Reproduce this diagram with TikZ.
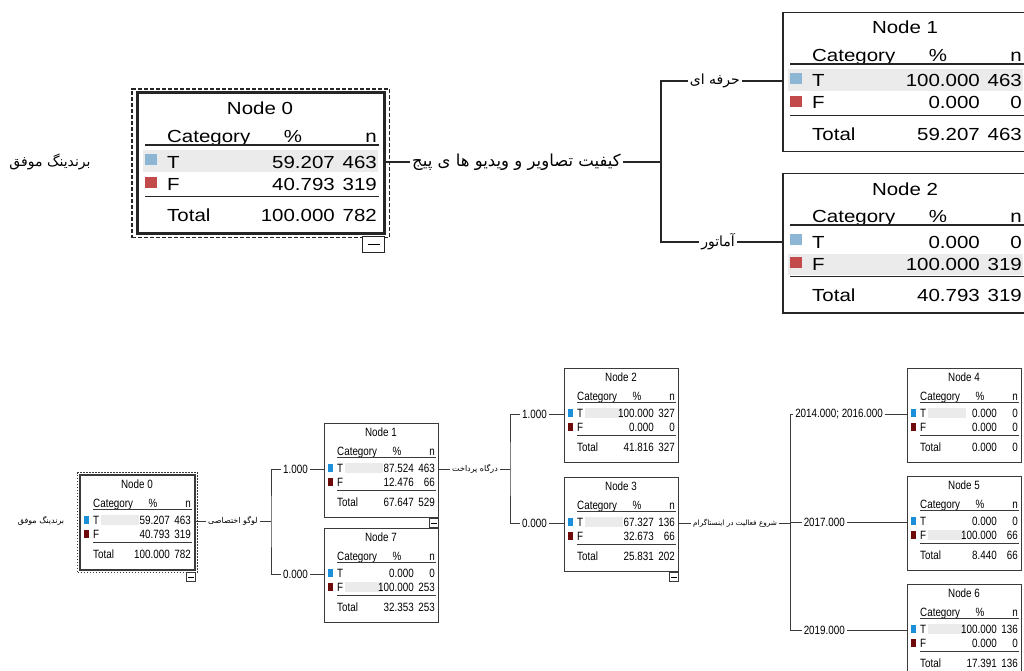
\documentclass[tikz,border=0pt]{standalone}
\usepackage{fontspec}
\setmainfont{Liberation Sans}
\newfontfamily\widesans[FakeStretch=1.17]{Liberation Sans}
\newfontfamily\narrowsans[FakeStretch=0.82]{Liberation Sans}
\newfontfamily\farsi[Script=Arabic]{DejaVu Sans}
\TeXXeTstate=1
\usetikzlibrary{positioning,fit}

\definecolor{tblue}{HTML}{8DB6D4}
\definecolor{fred}{HTML}{C24A4A}
\definecolor{sblue}{HTML}{1C8FDB}
\definecolor{sred}{HTML}{6E0A0A}
\definecolor{bandgray}{HTML}{EBEBEB}
\definecolor{linegray}{HTML}{3A3A3A}

\tikzset{
  bigframe/.style={draw=black!85, line width=1.5pt, minimum width=246pt,
    minimum height=139pt, inner sep=0pt, anchor=north west},
  smallframe/.style={draw=linegray, line width=1pt, minimum width=114pt,
    minimum height=94pt, inner sep=0pt, anchor=north west},
  bigtxt/.style={font=\widesans\fontsize{17.5}{20}\selectfont, inner sep=0pt},
  smalltxt/.style={font=\narrowsans\fontsize{12}{14}\selectfont, inner sep=0pt},
  bigrule/.style={draw=black!85, line width=1.5pt},
  smallrule/.style={draw=linegray, line width=1pt},
  topedge/.style={draw=black!85, line width=1.5pt},
  lowedge/.style={draw=linegray, line width=1pt},
  fabig/.style={font=\farsi\fontsize{14}{16}\selectfont, inner xsep=2pt, inner ysep=1pt},
  fasmall/.style={font=\farsi\fontsize{8}{10}\selectfont, inner xsep=2pt, inner ysep=1pt},
  branch/.style={font=\narrowsans\fontsize{12}{14}\selectfont, inner xsep=2pt, inner ysep=1pt},
  rootbig/.style={draw=black!85, dash pattern=on 4pt off 2pt, line width=1.2pt,
    inner xsep=5pt, inner ysep=4pt},
  rootsmall/.style={draw=linegray, dash pattern=on 1.5pt off 1.5pt, line width=1pt,
    inner sep=2.5pt},
  minusbig/.style={draw=black!85, line width=1.2pt, fill=white, minimum width=22pt,
    minimum height=16pt, inner sep=0pt, anchor=north east},
  minussmall/.style={draw=linegray, line width=0.8pt, fill=white, minimum width=9pt,
    minimum height=9pt, inner sep=0pt, anchor=north east}
}

% #1 name, #2 top left, #3 number, #4/#5 T, #6/#7 F, #8/#9 total
\newcommand{\bigbox}[9]{%
  \begin{scope}[shift={(#2)}]
    \ifnum #7>#5\relax
      \fill[bandgray] (6,81) rectangle (241,102);
    \else
      \fill[bandgray] (6,57) rectangle (241,79);
    \fi
    \node[bigframe] (#1) at (0,0) {};
    \fill[tblue] (8,61) rectangle (20,72);
    \fill[fred] (8,84) rectangle (20,95);
    \node[bigtxt, anchor=base] (#1-title) at (123,22) {Node #3};
    \node[bigtxt, anchor=base west] (#1-cat) at (30,49.5) {Category};
    \node[bigtxt, anchor=base] (#1-pc) at (156,49.5) {\%};
    \node[bigtxt, anchor=base east] (#1-n) at (240,49.5) {n};
    \draw[bigrule] (8,52) -- (242,52);
    \node[bigtxt, anchor=base west] (#1-tl) at (30,75) {T};
    \node[bigtxt, anchor=base east] (#1-tp) at (198,75) {#4};
    \node[bigtxt, anchor=base east] (#1-tn) at (240,75) {#5};
    \node[bigtxt, anchor=base west] (#1-fl) at (30,97) {F};
    \node[bigtxt, anchor=base east] (#1-fp) at (198,97) {#6};
    \node[bigtxt, anchor=base east] (#1-fn) at (240,97) {#7};
    \draw[bigrule] (8,103.5) -- (242,103.5);
    \node[bigtxt, anchor=base west] (#1-sl) at (30,128.5) {Total};
    \node[bigtxt, anchor=base east] (#1-sp) at (198,128.5) {#8};
    \node[bigtxt, anchor=base east] (#1-sn) at (240,128.5) {#9};
    \coordinate (#1-in) at (0,69);
    \coordinate (#1-out) at (246,69);
  \end{scope}}

\newcommand{\smallbox}[9]{%
  \begin{scope}[shift={(#2)}]
    \ifnum #7>#5\relax
      \fill[bandgray] (21,54) rectangle (59,64);
    \else
      \fill[bandgray] (21,40) rectangle (59,50);
    \fi
    \node[smallframe] (#1) at (0,0) {};
    \fill[sblue] (4,41) rectangle (9,49);
    \fill[sred] (4,55) rectangle (9,63);
    \node[smalltxt, anchor=base] (#1-title) at (57,13.5) {Node #3};
    \node[smalltxt, anchor=base west] (#1-cat) at (13,32) {Category};
    \node[smalltxt, anchor=base] (#1-pc) at (73,32) {\%};
    \node[smalltxt, anchor=base east] (#1-n) at (111,32) {n};
    \draw[smallrule] (13,34.5) -- (112,34.5);
    \node[smalltxt, anchor=base west] (#1-tl) at (13,49.5) {T};
    \node[smalltxt, anchor=base east] (#1-tp) at (90,49.5) {#4};
    \node[smalltxt, anchor=base east] (#1-tn) at (111,49.5) {#5};
    \node[smalltxt, anchor=base west] (#1-fl) at (13,63) {F};
    \node[smalltxt, anchor=base east] (#1-fp) at (90,63) {#6};
    \node[smalltxt, anchor=base east] (#1-fn) at (111,63) {#7};
    \draw[smallrule] (13,67.5) -- (112,67.5);
    \node[smalltxt, anchor=base west] (#1-sl) at (13,83.5) {Total};
    \node[smalltxt, anchor=base east] (#1-sp) at (90,83.5) {#8};
    \node[smalltxt, anchor=base east] (#1-sn) at (111,83.5) {#9};
    \coordinate (#1-in) at (0,46);
    \coordinate (#1-out) at (114,46);
  \end{scope}}

\begin{document}
\begin{tikzpicture}[x=1pt, y=-1pt]
\useasboundingbox (0,0) rectangle (1024,671);
\clip (0,0) rectangle (1024,671);
\fill[white] (0,0) rectangle (1024,671);

% upper tree
\bigbox{n0}{137,93}{0}{59.207}{463}{40.793}{319}{100.000}{782}
\bigbox{n1}{782,12}{1}{100.000}{463}{0.000}{0}{59.207}{463}
\bigbox{n2}{782,173}{2}{0.000}{0}{100.000}{319}{40.793}{319}

\node[rootbig, fit=(n0)] (n0-frame) {};
\node[minusbig] (n0-minus) at ([xshift=-5pt, yshift=2pt]n0-frame.south east) {\rule{12pt}{1.5pt}};
\draw[black!85, line width=3pt] (n0.north west) rectangle (n0.south east);

\node[fabig] (r0) at (50,162) {\farsi\beginR برندینگ موفق\endR};
\node[fabig, font=\farsi\fontsize{16.5}{18}\selectfont, right=27pt of n0-out] (s0) {\farsi\beginR کیفیت تصاویر و ویدیو ها ی پیج\endR};
\node[fabig, left=40pt of n1-in] (b1) {\farsi\beginR حرفه ای\endR};
\node[fabig, left=45pt of n2-in] (b2) {\farsi\beginR آماتور\endR};
\coordinate (j0) at (661,162);

\draw[topedge] (n0-out) -- (s0) -- (j0);
\draw[topedge] (n1-in) -- (b1) -| (j0) |- (b2) -- (n2-in);

% lower tree
\smallbox{m0}{80,475}{0}{59.207}{463}{40.793}{319}{100.000}{782}
\smallbox{m1}{324,423}{1}{87.524}{463}{12.476}{66}{67.647}{529}
\smallbox{m7}{324,528}{7}{0.000}{0}{100.000}{253}{32.353}{253}
\smallbox{m2}{564,368}{2}{100.000}{327}{0.000}{0}{41.816}{327}
\smallbox{m3}{564,477}{3}{67.327}{136}{32.673}{66}{25.831}{202}
\smallbox{m4}{907,368}{4}{0.000}{0}{0.000}{0}{0.000}{0}
\smallbox{m5}{907,476}{5}{0.000}{0}{100.000}{66}{8.440}{66}
\smallbox{m6}{907,584}{6}{100.000}{136}{0.000}{0}{17.391}{136}

\node[rootsmall, fit=(m0)] (m0-frame) {};
\draw[linegray, line width=2pt] (m0.north west) rectangle (m0.south east);
\node[minussmall] (m0-minus) at ([xshift=-2pt, yshift=1pt]m0-frame.south east) {\rule{6pt}{0.8pt}};
\node[minussmall] (m1-minus) at (m1.south east) {\rule{6pt}{0.8pt}};
\node[minussmall] (m3-minus) at (m3.south east) {\rule{6pt}{0.8pt}};

\node[fasmall] (r1) at (41,521) {\farsi\beginR برندینگ موفق\endR};
\node[fasmall, right=12pt of m0-out] (l0) {\farsi\beginR لوگو اختصاصی\endR};
\node[fasmall, right=12pt of m1-out] (l1) {\farsi\beginR درگاه پرداخت\endR};
\node[fasmall, font=\farsi\fontsize{7.3}{9}\selectfont, right=13pt of m3-out] (l3) {\farsi\beginR شروع فعالیت در اینستاگرام\endR};
\coordinate (ja) at (271,521);
\coordinate (jb) at (510,469);
\coordinate (jc) at (790,523);

\node[branch, left=14pt of m1-in] (e1) {1.000};
\node[branch, left=14pt of m7-in] (e7) {0.000};
\node[branch, left=15pt of m2-in] (e2) {1.000};
\node[branch, left=15pt of m3-in] (e3) {0.000};
\node[branch, left=22pt of m4-in] (e4) {2014.000; 2016.000};
\node[branch, left=60pt of m5-in] (e5) {2017.000};
\node[branch, left=60pt of m6-in] (e6) {2019.000};

\draw[lowedge] (m0-out) -- (l0) -- (ja);
\draw[lowedge] (m1-in) -- (e1) -| (ja) |- (e7) -- (m7-in);
\draw[lowedge] (m1-out) -- (l1) -- (jb);
\draw[lowedge] (m2-in) -- (e2) -| (jb) |- (e3) -- (m3-in);
\draw[lowedge] (m3-out) -- (l3) -- (jc);
\draw[lowedge] (m4-in) -- (e4) -| (jc) |- (e6) -- (m6-in);
\draw[lowedge] (jc |- e5) -- (e5) -- (m5-in);

\end{tikzpicture}
\end{document}
